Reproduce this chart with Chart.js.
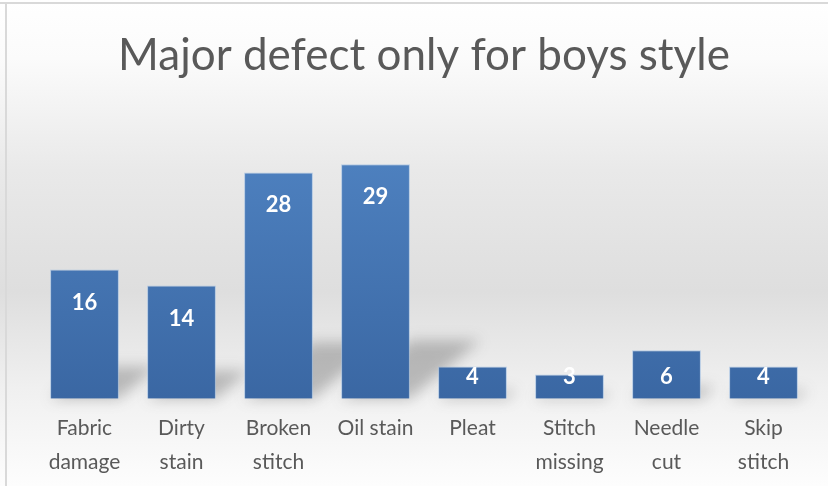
<!DOCTYPE html>
<html>
<head>
<meta charset="utf-8">
<script src="https://cdn.jsdelivr.net/npm/chart.js@4/dist/chart.umd.min.js"></script>
<style>
  html, body { margin: 0; padding: 0; background: #fff; }
  #wrap { width: 828px; height: 486px; position: relative; }
</style>
</head>
<body>
<div id="wrap"><canvas id="chart" width="828" height="486"></canvas></div>
<script>
// categories (multi-line tick labels) and counts
const defectLabels = [
    ["Fabric", "damage"],
    ["Dirty", "stain"],
    ["Broken", "stitch"],
    "Oil stain",
    "Pleat",
    ["Stitch", "missing"],
    ["Needle", "cut"],
    ["Skip", "stitch"],
];
const defectCounts = [16, 14, 28, 29, 4, 3, 6, 4];

const textGray = "#595959";

// soft gray background + thin frame like the Excel chart style
const backdrop = {
    id: "backdrop",
    beforeDraw(chart) {
        const { ctx, width, height } = chart;
        const g = ctx.createLinearGradient(0, 0, 0, height);
        g.addColorStop(0, "#ffffff");
        g.addColorStop(0.12, "#fbfbfb");
        g.addColorStop(0.35, "#e9e9e9");
        g.addColorStop(0.6, "#dedede");
        g.addColorStop(0.8, "#f0f0f0");
        g.addColorStop(1, "#fdfdfd");
        ctx.save();
        ctx.fillStyle = g;
        ctx.fillRect(0, 0, width, height);
        ctx.strokeStyle = "#d9d9d9";
        ctx.lineWidth = 2;
        ctx.beginPath();
        ctx.moveTo(0, 3);
        ctx.lineTo(width, 3);
        ctx.moveTo(6, 3);
        ctx.lineTo(6, height);
        ctx.stroke();
        ctx.restore();
    },
};

// skewed "floor" shadow behind each bar
const barShadow = {
    id: "barShadow",
    beforeDatasetsDraw(chart) {
        const { ctx } = chart;
        const meta = chart.getDatasetMeta(0);
        ctx.save();
        ctx.filter = "blur(7px)";
        ctx.fillStyle = "rgba(60,60,60,0.3)";
        meta.data.forEach((bar) => {
            const h = bar.base - bar.y;
            const half = bar.width / 2;
            const rise = h * 0.25;
            const shift = h * 0.3;
            ctx.beginPath();
            ctx.moveTo(bar.x - half, bar.base);
            ctx.lineTo(bar.x + half, bar.base);
            ctx.lineTo(bar.x + half + shift, bar.base - rise);
            ctx.lineTo(bar.x - half + shift, bar.base - rise);
            ctx.closePath();
            ctx.fill();
        });
        ctx.restore();
    },
};

// white bold value labels inside the bars
const valueLabels = {
    id: "valueLabels",
    afterDatasetsDraw(chart) {
        const { ctx } = chart;
        const meta = chart.getDatasetMeta(0);
        ctx.save();
        ctx.font = "bold 22px Lato";
        ctx.fillStyle = "#ffffff";
        ctx.textAlign = "center";
        ctx.textBaseline = "middle";
        meta.data.forEach((bar, i) => {
            const y = Math.min(bar.y + 33, bar.base - 22);
            ctx.fillText(defectCounts[i], bar.x, y);
        });
        ctx.restore();
    },
};

const config = {
    type: "bar",
    data: {
        labels: defectLabels,
        datasets: [
            {
                label: "Major defect",
                data: defectCounts,
                backgroundColor: function (context) {
                    const area = context.chart.chartArea;
                    if (!area) return "#4676b4";
                    const g = context.chart.ctx.createLinearGradient(0, area.top, 0, area.bottom);
                    g.addColorStop(0, "#5185c4");
                    g.addColorStop(1, "#3a67a3");
                    return g;
                },
                borderColor: "rgba(150,185,225,0.6)",
                borderWidth: 1,
                barPercentage: 0.71,
                categoryPercentage: 1,
            },
        ],
    },
    plugins: [backdrop, barShadow, valueLabels],
    options: {
        responsive: false,
        animation: false,
        layout: { padding: { top: 29, left: 36, right: 16, bottom: -6 } },
        plugins: {
            legend: { display: false },
            tooltip: { enabled: false },
            title: {
                display: true,
                text: "Major defect only for boys style",
                color: textGray,
                font: { family: "Lato", size: 44, weight: "normal" },
                padding: { top: 0, bottom: 34 },
            },
        },
        scales: {
            x: {
                grid: { display: false, drawTicks: false },
                border: { display: false },
                ticks: {
                    color: textGray,
                    font: { family: "Lato", size: 21, lineHeight: 1.6 },
                    padding: 13,
                    maxRotation: 0,
                    autoSkip: false,
                },
            },
            y: {
                display: false,
                min: 0,
                max: 35,
            },
        },
    },
};

const chart = new Chart(document.getElementById("chart"), config);
</script>
</body>
</html>
